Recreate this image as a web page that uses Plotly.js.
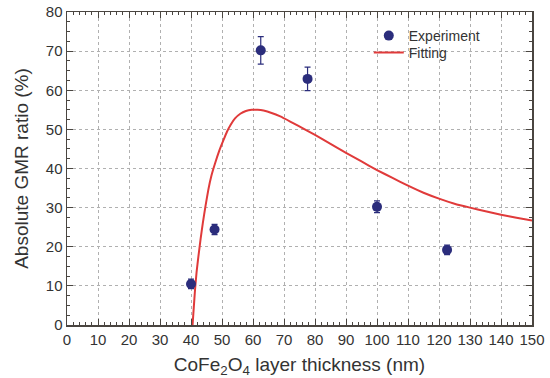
<!DOCTYPE html>
<html>
<head>
<meta charset="utf-8">
<script src="https://cdn.plot.ly/plotly-3.0.1.min.js"></script>
<style>html,body{margin:0;padding:0;background:#fff;}#chart{width:550px;height:378px;}</style>
</head>
<body>
<div id="chart"></div>
<script>
const expThickness = [40.0, 47.6, 62.5, 77.6, 100.0, 122.6];
const expGMR = [10.5, 24.4, 70.2, 62.9, 30.2, 19.2];
const expErr = [1.2, 1.3, 3.5, 3.0, 1.5, 1.2];

const fitThickness = [40.5, 40.9, 41.3, 41.8, 42.4, 43.1, 43.8, 44.7, 45.6, 46.6, 47.8, 49.1, 50.5, 51.6, 52.8, 54.2, 55.9, 57.7, 59.6, 61.5, 63.4, 66, 68.8, 72, 77, 80, 85, 90, 95, 100, 105, 110, 115, 120, 125, 130, 135, 140, 145, 150];
const fitGMR = [0, 4.5, 9, 13.5, 17.6, 22, 26, 30.5, 34.6, 38.2, 41.4, 44.5, 47.3, 49.4, 51.2, 52.8, 54.0, 54.7, 55.0, 55.0, 54.8, 54.2, 53.3, 52.0, 49.9, 48.6, 46.3, 44.0, 41.8, 39.6, 37.6, 35.6, 33.8, 32.3, 31.0, 30.0, 29.1, 28.2, 27.4, 26.7];

const xTicks = [0,10,20,30,40,50,60,70,80,90,100,110,120,130,140,150];
const yTicks = [0,10,20,30,40,50,60,70,80];

const FONT = 'Liberation Sans, Arial, sans-serif';
const axisCommon = {
  showline: true, linecolor: '#4a4540', linewidth: 1.5, mirror: 'ticks',
  ticks: 'inside', ticklen: 6, tickcolor: '#4a4540', tickwidth: 1,
  showgrid: true, gridcolor: '#b0b0b0', griddash: 'dot', gridwidth: 1,
  zeroline: false,
  tickfont: {family: FONT, size: 15, color: '#333'},
  tickmode: 'array'
};

const data = [
  {
    x: fitThickness, y: fitGMR, type: 'scatter', mode: 'lines', name: 'Fitting',
    line: {color: '#e03a3a', width: 2, shape: 'spline', smoothing: 0.4},
    legend: 'legend2'
  },
  {
    x: expThickness, y: expGMR, type: 'scatter', mode: 'markers', name: 'Experiment',
    marker: {color: '#2b2d7c', size: 10},
    error_y: {type: 'data', array: expErr, visible: true, color: '#2b2d7c', thickness: 1.2, width: 3},
    legend: 'legend'
  }
];

const legendCommon = {
  xanchor: 'left', yanchor: 'middle', bgcolor: 'rgba(0,0,0,0)',
  font: {family: FONT, size: 14, color: '#333'}, itemwidth: 30
};

const layout = {
  width: 550, height: 378,
  margin: {l: 67, r: 18, t: 12, b: 53},
  paper_bgcolor: '#fff', plot_bgcolor: '#fff',
  showlegend: true,
  legend: Object.assign({}, legendCommon, {x: 0.649, y: 1 - (36 - 12) / 313}),
  legend2: Object.assign({}, legendCommon, {x: 0.649, y: 1 - (53 - 12) / 313}),
  xaxis: Object.assign({}, axisCommon, {
    range: [0, 150], tickvals: xTicks, ticktext: xTicks.map(String),
    minor: {dtick: 2, ticks: 'inside', ticklen: 3, tickcolor: '#4a4540', showgrid: false},
    title: {text: 'CoFe<sub>2</sub>O<sub>4</sub> layer thickness (nm)', standoff: 13,
      font: {family: FONT, size: 19, color: '#333'}}
  }),
  yaxis: Object.assign({}, axisCommon, {
    range: [0, 80], tickvals: yTicks, ticktext: yTicks.map(String),
    minor: {dtick: 2.5, ticks: 'inside', ticklen: 3, tickcolor: '#4a4540', showgrid: false},
    title: {text: 'Absolute GMR ratio (%)', standoff: 12,
      font: {family: FONT, size: 19, color: '#333'}}
  })
};

Plotly.newPlot('chart', data, layout, {displayModeBar: false, staticPlot: true});
</script>
</body>
</html>
